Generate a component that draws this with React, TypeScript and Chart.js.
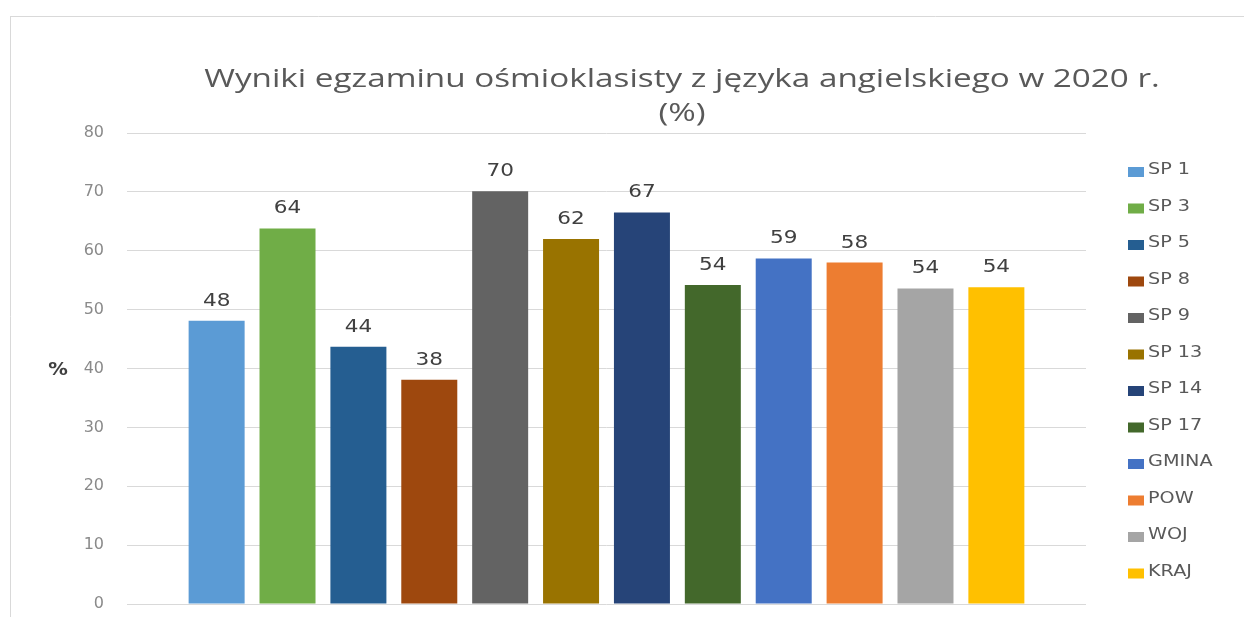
import React, { useEffect, useRef } from "react";
import { Chart, registerables } from "chart.js";

Chart.register(...registerables);

const seriesNames = ["SP 1", "SP 3", "SP 5", "SP 8", "SP 9", "SP 13", "SP 14", "SP 17", "GMINA", "POW", "WOJ", "KRAJ"];
const seriesValues = [48.1, 63.8, 43.7, 38.1, 70.1, 62.0, 66.5, 54.2, 58.7, 58.0, 53.6, 53.8];
const seriesColors = ["#5B9BD5", "#70AD47", "#255E91", "#9E480E", "#636363", "#997300", "#264478", "#43682B", "#4472C4", "#ED7D31", "#A5A5A5", "#FFC000"];
const categories = ["2020"];
const titleLines = ["Wyniki egzaminu ośmioklasisty z języka angielskiego w 2020 r.", "(%)"];
const yAxisLabel = "%";
const yMin = 0;
const yMax = 80;
const yStep = 10;

const W = 1244;
const H = 617;

function stretchedText(ctx: CanvasRenderingContext2D, text: string, x: number, y: number, sx: number) {
  ctx.save();
  ctx.translate(x, y);
  ctx.scale(sx, 1);
  ctx.fillText(text, 0, 0);
  ctx.restore();
}

const decorPlugin = {
  id: "decor",
  beforeDraw(chart: any) {
    const ctx = chart.ctx;
    ctx.save();
    ctx.fillStyle = "#ffffff";
    ctx.fillRect(0, 0, chart.width, chart.height);
    ctx.strokeStyle = "#d9d9d9";
    ctx.lineWidth = 1;
    ctx.beginPath();
    ctx.moveTo(10, 16.5);
    ctx.lineTo(chart.width, 16.5);
    ctx.moveTo(10.5, 16);
    ctx.lineTo(10.5, chart.height);
    ctx.stroke();
    ctx.restore();
  },
  afterDatasetsDraw(chart: any) {
    const ctx = chart.ctx;
    ctx.save();
    ctx.font = "18px 'DejaVu Sans'";
    ctx.fillStyle = "#404040";
    ctx.textAlign = "center";
    ctx.textBaseline = "alphabetic";
    chart.data.datasets.forEach((ds: any, i: number) => {
      const meta = chart.getDatasetMeta(i);
      meta.data.forEach((bar: any, j: number) => {
        const v = ds.data[j];
        stretchedText(ctx, String(Math.round(v)), bar.x, bar.y - 15, 1.2);
      });
    });
    ctx.restore();
  },
  afterDraw(chart: any) {
    const ctx = chart.ctx;
    ctx.save();
    // title
    ctx.fillStyle = "#595959";
    ctx.font = "25px 'Open Sans'";
    ctx.textAlign = "center";
    ctx.textBaseline = "alphabetic";
    stretchedText(ctx, titleLines[0], 682, 87, 1.33);
    stretchedText(ctx, titleLines[1], 682, 121, 1.33);
    // y axis label
    ctx.fillStyle = "#404040";
    ctx.font = "bold 17px 'DejaVu Sans'";
    ctx.textBaseline = "middle";
    stretchedText(ctx, yAxisLabel, 58, 371, 1.15);
    // legend
    ctx.font = "16px 'DejaVu Sans'";
    ctx.textAlign = "left";
    chart.data.datasets.forEach((ds: any, i: number) => {
      const cy = 170 + i * 36.5;
      ctx.fillStyle = ds.backgroundColor;
      ctx.fillRect(1128, cy - 3, 16, 10);
      ctx.fillStyle = "#595959";
      stretchedText(ctx, ds.label, 1148, cy, 1.2);
    });
    ctx.restore();
  },
};

export default function App() {
  const canvasRef = useRef<HTMLCanvasElement | null>(null);

  useEffect(() => {
    document.body.style.margin = "0";
    const canvas = canvasRef.current;
    if (!canvas) return;
    const chart = new Chart(canvas, {
      type: "bar",
      data: {
        labels: categories,
        datasets: seriesNames.map((name, i) => ({
          label: name,
          data: [seriesValues[i]],
          backgroundColor: seriesColors[i],
          borderWidth: 0,
          categoryPercentage: 0.887,
          barPercentage: 0.79,
        })),
      },
      options: {
        responsive: false,
        animation: false,
        devicePixelRatio: 1,
        layout: { padding: { left: 0, right: 158, top: 133, bottom: 13 } },
        plugins: {
          legend: { display: false },
          title: { display: false },
          tooltip: { enabled: false },
        },
        scales: {
          x: { display: false },
          y: {
            min: yMin,
            max: yMax,
            ticks: {
              stepSize: yStep,
              padding: 2,
              color: "#8a8a8a",
              font: { family: "'DejaVu Sans'", size: 16 },
            },
            grid: { color: "#d9d9d9", lineWidth: 1, drawTicks: true, tickLength: 21, tickColor: "rgba(0,0,0,0)" },
            border: { display: false },
            afterFit: (scale: any) => {
              scale.width = 127;
            },
          },
        },
      },
      plugins: [decorPlugin],
    });
    return () => chart.destroy();
  }, []);

  return (
    <div style={{ position: "relative", width: W, height: H }}>
      <canvas ref={canvasRef} width={W} height={H} style={{ width: W, height: H, display: "block" }} />
    </div>
  );
}
